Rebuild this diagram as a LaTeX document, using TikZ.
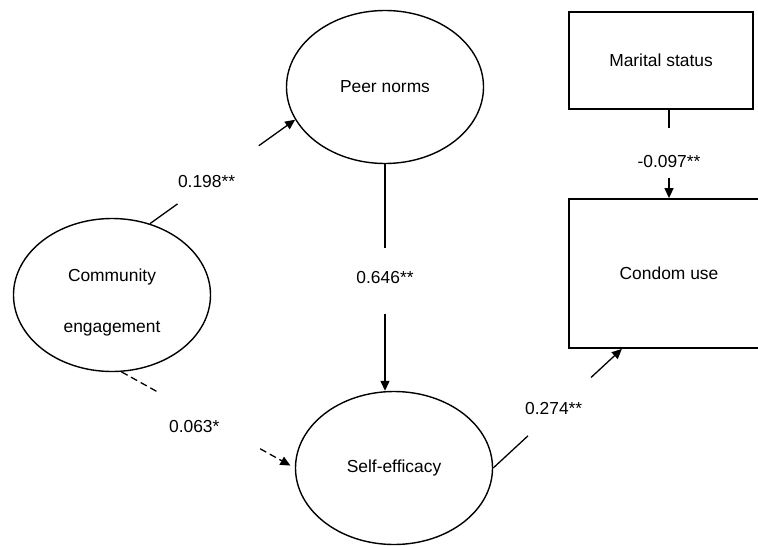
\documentclass[tikz,border=0pt]{standalone}
\usepackage{fontspec}
\setmainfont{Liberation Sans}
\usetikzlibrary{shapes}
\usetikzlibrary{positioning}
\usetikzlibrary{arrows.meta}

\begin{document}
\begin{tikzpicture}[
x=0.5pt,y=-0.5pt,
line width=0.65pt,
every node/.style={font=\fontsize{8.7pt}{10.4pt}\selectfont},
myellipse/.style={
ellipse,
draw=black,
line width=0.7pt,
inner sep=0pt,
minimum width=98.5pt,
minimum height=76.5pt},
mybox/.style={
rectangle,
draw=black,
line width=0.9pt,
inner sep=0pt},
mylabel/.style={inner sep=0pt},
myarrow/.style={-{Triangle[length=5pt,width=4.5pt]}},
mydash/.style={dash pattern=on 3.5pt off 2pt}
]
\clip (0,0) rectangle (758,545);
\node[myellipse] (pn) at (385,87) {Peer norms};
      \node[myellipse,align=center,font=\fontsize{8.7pt}{25.5pt}\selectfont] (ce) at (112,295) {\rule{0pt}{14.3pt}Community\\engagement};
      \node[myellipse] (se) at (394,468) {Self-efficacy};
      \node[mybox,minimum width=92pt,minimum height=48.5pt] (ms) at (661,60.5) {Marital status};
      \node[mybox,minimum width=100pt,minimum height=74.5pt] (cu) at (669,273.5) {Condom use};
      % paths with a gap for the coefficient
      \path (ce.62) -- coordinate[pos=0.19] (c1a) node[mylabel,pos=0.39,yshift=1pt] (l1) {0.198**} coordinate[pos=0.75] (c1b) (pn.200);
      \draw (ce.62) -- (c1a);
      \draw[myarrow] (c1b) -- (pn.200);
      \path (pn.south) -- coordinate[pos=0.37] (c2a) node[mylabel,pos=0.5] (l2) {0.646**} coordinate[pos=0.66] (c2b) (pn.south |- se.north);
      \draw (pn.south) -- (c2a);
      \draw[myarrow] (c2b) -- (pn.south |- se.north);
      \path (ce.277) -- coordinate[pos=0.21] (c3a) node[mylabel,pos=0.42,yshift=-7pt] (l3) {0.063*} coordinate[pos=0.80] (c3b) (se.west);
      \draw[mydash] (ce.277) -- (c3a);
      \draw[mydash,myarrow,shorten >=2.5pt] (c3b) -- (se.west);
      \path (se.east) -- coordinate[pos=0.27] (c4a) node[mylabel,pos=0.47,yshift=2pt] (l4) {0.274**} coordinate[pos=0.76] (c4b) (cu.238);
      \draw (se.east) -- (c4a);
      \draw[myarrow] (c4b) -- (cu.238);
      \path (ms.south -| cu.north) -- coordinate[pos=0.2] (c5a) node[mylabel,pos=0.59] (l5) {-0.097**} coordinate[pos=0.77] (c5b) (cu.north);
      \draw (ms.south -| cu.north) -- (c5a);
      \draw[myarrow] (c5b) -- (cu.north);
\end{tikzpicture}
\end{document}
